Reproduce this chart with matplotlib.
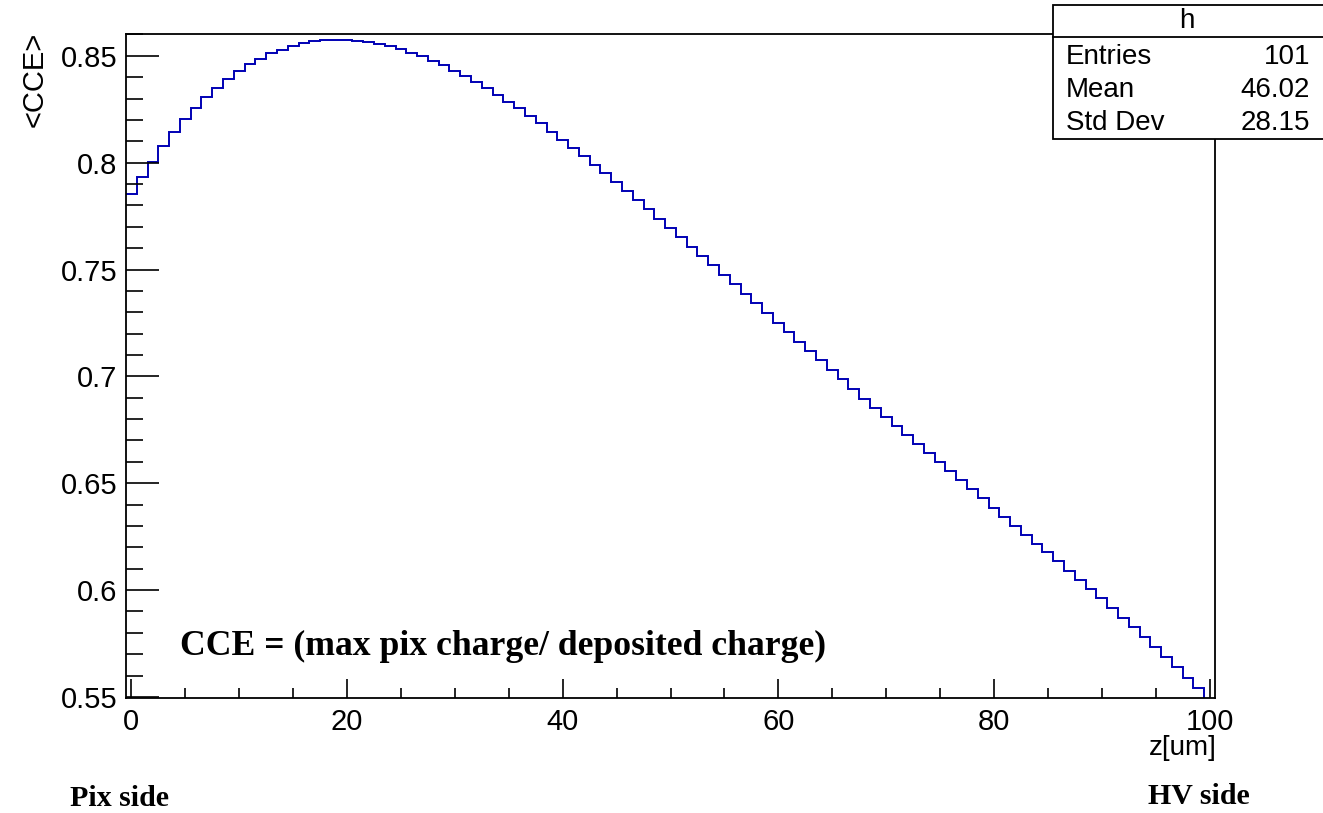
import numpy as np
import matplotlib.pyplot as plt
from matplotlib.patches import Rectangle
from matplotlib.ticker import MultipleLocator

# =========================================================
# DATA (101 bins)
# =========================================================

z_bins = np.arange(0, 101)  # bin centres [um]

cce = [
    0.7853, 0.7935, 0.8005, 0.8079, 0.8145, 0.8202, 0.8255, 0.8305, 0.8350, 0.8391,
    0.8427, 0.8461, 0.8487, 0.8511, 0.8529, 0.8548, 0.8559, 0.8567, 0.8573, 0.8576,
    0.8576, 0.8571, 0.8565, 0.8556, 0.8545, 0.8531, 0.8515, 0.8498, 0.8478, 0.8455,
    0.8430, 0.8406, 0.8377, 0.8349, 0.8318, 0.8286, 0.8254, 0.8218, 0.8184, 0.8145,
    0.8106, 0.8068, 0.8031, 0.7991, 0.7950, 0.7909, 0.7867, 0.7825, 0.7782, 0.7738,
    0.7694, 0.7651, 0.7607, 0.7564, 0.7519, 0.7473, 0.7430, 0.7386, 0.7341, 0.7296,
    0.7250, 0.7206, 0.7162, 0.7118, 0.7075, 0.7029, 0.6986, 0.6941, 0.6896, 0.6853,
    0.6811, 0.6768, 0.6724, 0.6684, 0.6640, 0.6598, 0.6556, 0.6513, 0.6471, 0.6430,
    0.6386, 0.6344, 0.6302, 0.6260, 0.6217, 0.6176, 0.6134, 0.6090, 0.6048, 0.6004,
    0.5961, 0.5916, 0.5871, 0.5826, 0.5780, 0.5735, 0.5685, 0.5638, 0.5590, 0.5542,
    0.5490,
]

stat_names = ["Entries", "Mean", "Std Dev"]
stat_values = ["101", "46.02", "28.15"]

x_ticks = [0, 20, 40, 60, 80, 100]
y_ticks = [0.55, 0.6, 0.65, 0.7, 0.75, 0.8, 0.85]
y_tick_labels = ["0.55", "0.6", "0.65", "0.7", "0.75", "0.8", "0.85"]

# =========================================================
# FIGURE
# =========================================================

W, H = 1323, 813
fig = plt.figure(figsize=(W / 100, H / 100), dpi=100)

def fx(px):
    return px / W

def fy(py):
    return 1 - py / H

ax = fig.add_axes([fx(126), fy(698), fx(1215) - fx(126), fy(34) - fy(698)])

edges = np.append(z_bins - 0.5, z_bins[-1] + 0.5)
ax.stairs(cce, edges, baseline=None, color="#0000b4", linewidth=1.4)

ax.set_xlim(-0.5, 100.5)
ax.set_ylim(0.5495, 0.8602)

ax.set_xticks(x_ticks)
ax.set_yticks(y_ticks)
ax.set_yticklabels(y_tick_labels)
ax.xaxis.set_minor_locator(MultipleLocator(5))
ax.yaxis.set_minor_locator(MultipleLocator(0.01))

ax.tick_params(which="both", direction="in", top=False, right=False,
               labelsize=21, width=1.2)
ax.tick_params(axis="x", which="major", length=14, pad=7)
ax.tick_params(axis="x", which="minor", length=7)
ax.tick_params(axis="y", which="major", length=24, pad=6)
ax.tick_params(axis="y", which="minor", length=12)
for lbl in ax.get_xticklabels() + ax.get_yticklabels():
    lbl.set_family("Liberation Sans")
for sp in ax.spines.values():
    sp.set_linewidth(1.3)

# axis titles (ROOT style, at the axis ends)
fig.text(fx(35), fy(32), "<CCE>", rotation=90, ha="center", va="top",
         fontsize=21, family="Liberation Sans")
fig.text(fx(1217), fy(735), "z[um]", ha="right", va="top",
         fontsize=20, family="Liberation Sans")

# annotation texts
fig.text(fx(180), fy(655), "CCE = (max pix charge/ deposited charge)",
         ha="left", va="baseline", fontsize=25.7, fontweight="bold",
         family="Liberation Serif")
fig.text(fx(70), fy(806), "Pix side", ha="left", va="baseline",
         fontsize=21.5, fontweight="bold", family="Liberation Serif")
fig.text(fx(1250), fy(804), "HV side", ha="right", va="baseline",
         fontsize=21.5, fontweight="bold", family="Liberation Serif")

# =========================================================
# STATS BOX
# =========================================================

box = Rectangle((fx(1053), fy(139)), fx(1340) - fx(1053), fy(5) - fy(139),
                transform=fig.transFigure, facecolor="white", edgecolor="black",
                linewidth=1.3, zorder=5)
fig.add_artist(box)
fig.add_artist(plt.Line2D([fx(1053), fx(1323)], [fy(37), fy(37)],
                          transform=fig.transFigure, color="black",
                          linewidth=1.3, zorder=6))
fig.text(fx(1187), fy(21), "h", ha="center", va="center", fontsize=20,
         family="Liberation Sans", zorder=7)
for i, (name, val) in enumerate(zip(stat_names, stat_values)):
    yy = 57 + i * 33
    fig.text(fx(1066), fy(yy), name, ha="left", va="center", fontsize=20,
             family="Liberation Sans", zorder=7)
    fig.text(fx(1310), fy(yy), val, ha="right", va="center", fontsize=20,
             family="Liberation Sans", zorder=7)

fig.savefig("out.png", dpi=100)
